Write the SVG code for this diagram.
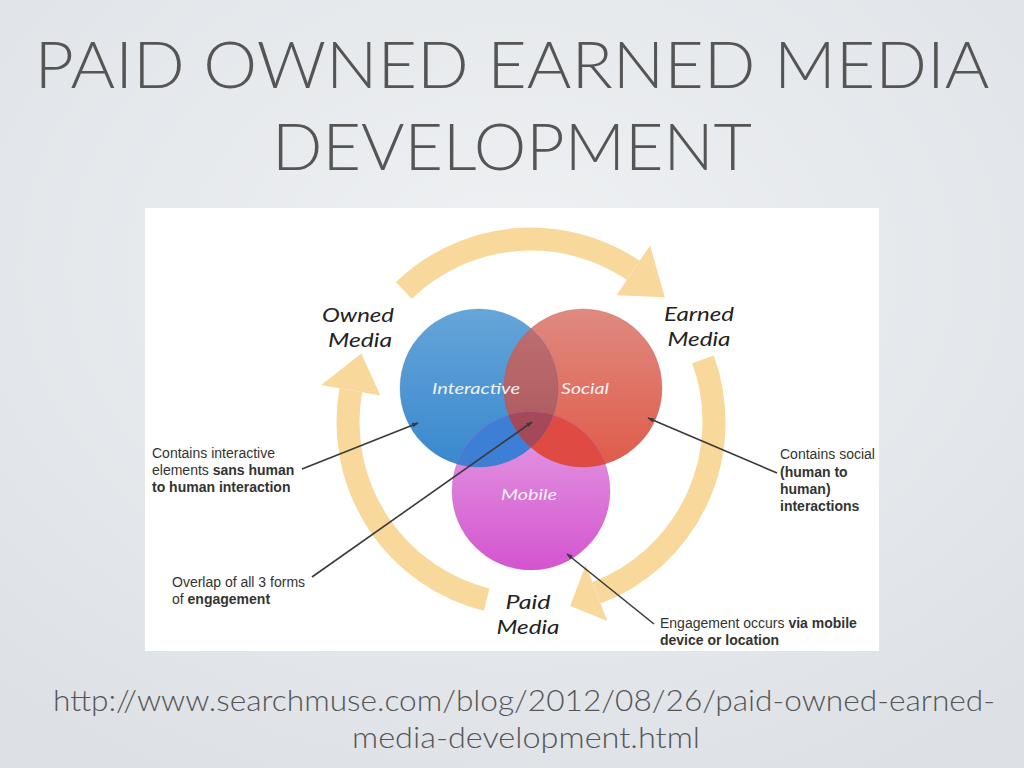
<svg xmlns="http://www.w3.org/2000/svg" width="1024" height="768" viewBox="0 0 1024 768">
<defs>
<radialGradient id="bg" cx="0.5" cy="0.35" r="0.75">
<stop offset="0" stop-color="#eff1f3"/>
<stop offset="1" stop-color="#dde1e6"/>
</radialGradient>
<linearGradient id="gB" x1="0" y1="0" x2="0" y2="1">
<stop offset="0" stop-color="#66a5d8"/>
<stop offset="1" stop-color="#3888ce"/>
</linearGradient>
<linearGradient id="gR" x1="0" y1="0" x2="0" y2="1">
<stop offset="0" stop-color="#df8a80"/>
<stop offset="1" stop-color="#e05b4a"/>
</linearGradient>
<linearGradient id="gM" x1="0" y1="0" x2="0" y2="1">
<stop offset="0" stop-color="#e49fe4"/>
<stop offset="1" stop-color="#d454cf"/>
</linearGradient>
<linearGradient id="gBR" x1="0" y1="0" x2="0" y2="1">
<stop offset="0" stop-color="#bf7173"/>
<stop offset="1" stop-color="#a9545a"/>
</linearGradient>
<clipPath id="clipB"><circle cx="479" cy="388" r="79"/></clipPath>
<clipPath id="clipR"><circle cx="583" cy="388" r="79"/></clipPath>
<marker id="tip" viewBox="0 0 10 10" refX="9" refY="5" markerWidth="4" markerHeight="4" orient="auto" markerUnits="strokeWidth">
<path d="M0,1.5 L10,5 L0,8.5 z" fill="#3a3a3a"/>
</marker>
<style>
.title{font-family:Lato,"Open Sans","Liberation Sans",sans-serif;font-weight:300;fill:#555;}
.url{font-family:Lato,"Open Sans","Liberation Sans",sans-serif;font-weight:300;fill:#555;font-size:30px;}
.band{fill:none;stroke:#f8d99b;stroke-width:23;}
.head{fill:#f8d99b;}
.lbl{font-family:Lato,"Open Sans","Liberation Sans",sans-serif;font-style:italic;font-size:20px;fill:#222;text-anchor:middle;}
.inner{font-family:Lato,"Open Sans","Liberation Sans",sans-serif;font-style:italic;font-size:16px;fill:#f2f2f7;text-anchor:middle;}
.note{font-family:"Liberation Sans",Arial,sans-serif;font-size:14px;fill:#333;}
.b{font-weight:bold;}
.conn{stroke:#3a3a3a;stroke-width:1.6;fill:none;}
</style>
</defs>
<rect x="0" y="0" width="1024" height="768" fill="url(#bg)"/>
<g id="title">
<text class="title" x="512" y="88" font-size="66" text-anchor="middle" textLength="955" lengthAdjust="spacingAndGlyphs">PAID OWNED EARNED MEDIA</text>
<text class="title" x="512" y="170" font-size="66" text-anchor="middle" textLength="480" lengthAdjust="spacingAndGlyphs">DEVELOPMENT</text>
</g>
<rect id="panel" x="145" y="208" width="734" height="443" fill="#ffffff"/>
<g id="cycle">
<g id="arrow-top">
<path class="band" d="M403.9,290.4 A183,183 0 0 1 633.3,270.3"/>
<polygon class="head" points="616.6,295.2 650.1,245.4 664.8,297.2"/>
</g>
<g id="arrow-right">
<path class="band" d="M703,359.4 A183,183 0 0 1 596.6,592.8"/>
<polygon class="head" points="585.8,564.8 607.3,620.9 570.1,605.9"/>
</g>
<g id="arrow-left">
<path class="band" d="M486.7,599.6 A183,183 0 0 1 350.8,390.2"/>
<polygon class="head" points="380.3,395.4 321.2,385 361.3,353.4"/>
</g>
</g>
<g id="venn">
<g id="interactive"><circle cx="479" cy="388" r="79" fill="url(#gB)"/></g>
<g id="social"><circle cx="583" cy="388" r="79" fill="url(#gR)"/></g>
<g id="mobile"><circle cx="531" cy="491" r="79" fill="url(#gM)"/></g>
<g clip-path="url(#clipB)"><circle cx="531" cy="491" r="79" fill="#3c7fd4"/></g>
<g clip-path="url(#clipR)"><circle cx="531" cy="491" r="79" fill="#df4a42"/></g>
<g clip-path="url(#clipB)"><circle cx="583" cy="388" r="79" fill="url(#gBR)"/></g>
<g clip-path="url(#clipB)"><g clip-path="url(#clipR)"><circle cx="531" cy="491" r="79" fill="#a5485a"/></g></g>
<circle cx="479" cy="388" r="79" fill="none" stroke="#2f6fa8" stroke-opacity="0.25" stroke-width="1"/>
<circle cx="583" cy="388" r="79" fill="none" stroke="#a8403a" stroke-opacity="0.25" stroke-width="1"/>
<circle cx="531" cy="491" r="79" fill="none" stroke="#a03a9a" stroke-opacity="0.2" stroke-width="1"/>
<text class="inner" x="476" y="394" textLength="88" lengthAdjust="spacingAndGlyphs">Interactive</text>
<text class="inner" x="585" y="394" textLength="48" lengthAdjust="spacingAndGlyphs">Social</text>
<text class="inner" x="529" y="500" textLength="56" lengthAdjust="spacingAndGlyphs">Mobile</text>
</g>
<g id="labels">
<text class="lbl" x="358" y="322" textLength="72" lengthAdjust="spacingAndGlyphs">Owned</text>
<text class="lbl" x="360" y="347" textLength="64" lengthAdjust="spacingAndGlyphs">Media</text>
<text class="lbl" x="699" y="321" textLength="70" lengthAdjust="spacingAndGlyphs">Earned</text>
<text class="lbl" x="699" y="346" textLength="63" lengthAdjust="spacingAndGlyphs">Media</text>
<text class="lbl" x="528" y="609" textLength="45" lengthAdjust="spacingAndGlyphs">Paid</text>
<text class="lbl" x="528" y="634" textLength="63" lengthAdjust="spacingAndGlyphs">Media</text>
</g>
<g id="connectors">
<line class="conn" x1="302" y1="469" x2="418" y2="423" marker-end="url(#tip)"/>
<line class="conn" x1="312" y1="577" x2="532" y2="422" marker-end="url(#tip)"/>
<line class="conn" x1="777" y1="473" x2="648" y2="418" marker-end="url(#tip)"/>
<line class="conn" x1="654" y1="624" x2="567" y2="554" marker-end="url(#tip)"/>
</g>
<g id="notes">
<text class="note" x="152" y="458">Contains interactive</text>
<text class="note" x="152" y="475">elements <tspan class="b">sans human</tspan></text>
<text class="note b" x="152" y="492">to human interaction</text>
<text class="note" x="172" y="587">Overlap of all 3 forms</text>
<text class="note" x="172" y="604">of <tspan class="b">engagement</tspan></text>
<text class="note" x="780" y="459">Contains social</text>
<text class="note b" x="780" y="477">(human to</text>
<text class="note b" x="780" y="494">human)</text>
<text class="note b" x="780" y="511">interactions</text>
<text class="note" x="660" y="628">Engagement occurs <tspan class="b">via mobile</tspan></text>
<text class="note b" x="660" y="645">device or location</text>
</g>
<g id="source">
<text class="url" x="524" y="711" text-anchor="middle" textLength="942" lengthAdjust="spacingAndGlyphs">http://www.searchmuse.com/blog/2012/08/26/paid-owned-earned-</text>
<text class="url" x="526" y="748" text-anchor="middle" textLength="348" lengthAdjust="spacingAndGlyphs">media-development.html</text>
</g>
</svg>
